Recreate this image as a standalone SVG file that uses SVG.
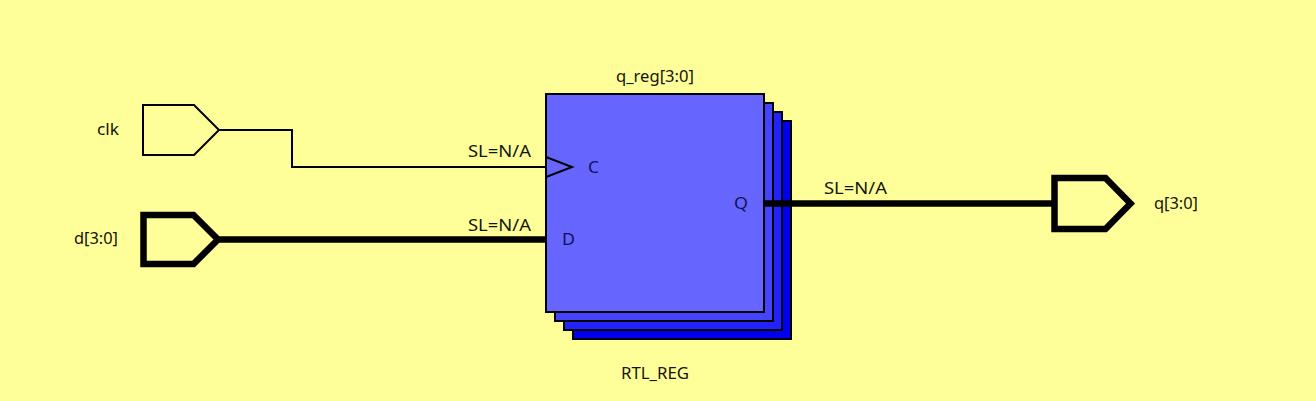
<svg xmlns="http://www.w3.org/2000/svg" width="1316" height="401" viewBox="0 0 1316 401">
<style>
text{font-family:"Noto Sans","Open Sans","DejaVu Sans",sans-serif;font-size:17px;fill:#14140c}
.b{stroke:#000;stroke-width:2;stroke-linejoin:miter}
.thin{fill:none;stroke:#000;stroke-width:2}
.thick{fill:none;stroke:#000;stroke-width:6.500}
.port{fill:#ffff99}
.pin{fill:#10105a}
</style>
<rect width="1316" height="401" fill="#ffff99"/>
<g id="clk">
<path class="thin port" d="M143 105H194L219 130L194 155H143Z"/>
<text x="97" y="135" textLength="22" lengthAdjust="spacingAndGlyphs">clk</text>
</g>
<g id="d">
<path class="thick port" d="M143.500 215H193.500L218 239.500L193.500 264H143.500Z"/>
<text x="74" y="244" textLength="44" lengthAdjust="spacingAndGlyphs">d[3:0]</text>
</g>
<g id="q">
<path class="thick port" d="M1054.500 178H1105.500L1130.500 203.500L1105.500 229H1054.500Z"/>
<text x="1154" y="209" textLength="44" lengthAdjust="spacingAndGlyphs">q[3:0]</text>
</g>
<g id="q_reg">
<rect class="b" x="573" y="121" width="218" height="218" fill="#0000ee"/>
<rect class="b" x="564" y="112" width="218" height="218" fill="#2222ff"/>
<rect class="b" x="555" y="103" width="218" height="218" fill="#4444ff"/>
<rect class="b" x="546" y="94" width="218" height="218" fill="#6666ff"/>
<path class="thin" d="M546 157L572 167L546 177"/>
<text class="pin" x="588" y="173" textLength="11" lengthAdjust="spacingAndGlyphs">C</text>
<text class="pin" x="562" y="245" textLength="13" lengthAdjust="spacingAndGlyphs">D</text>
<text class="pin" x="734" y="209" textLength="14" lengthAdjust="spacingAndGlyphs">Q</text>
<text x="616" y="82" textLength="78" lengthAdjust="spacingAndGlyphs">q_reg[3:0]</text>
<text x="621" y="379" textLength="68" lengthAdjust="spacingAndGlyphs">RTL_REG</text>
</g>
<g id="connectors">
<path class="thin" d="M219 130H292V167H546"/>
<path class="thick" d="M219 239.500H546"/>
<path class="thick" d="M764 203.500H1054"/>
<text x="468" y="157" textLength="63" lengthAdjust="spacingAndGlyphs">SL=N/A</text>
<text x="468" y="231" textLength="63" lengthAdjust="spacingAndGlyphs">SL=N/A</text>
<text x="824" y="194" textLength="63" lengthAdjust="spacingAndGlyphs">SL=N/A</text>
</g>
</svg>
